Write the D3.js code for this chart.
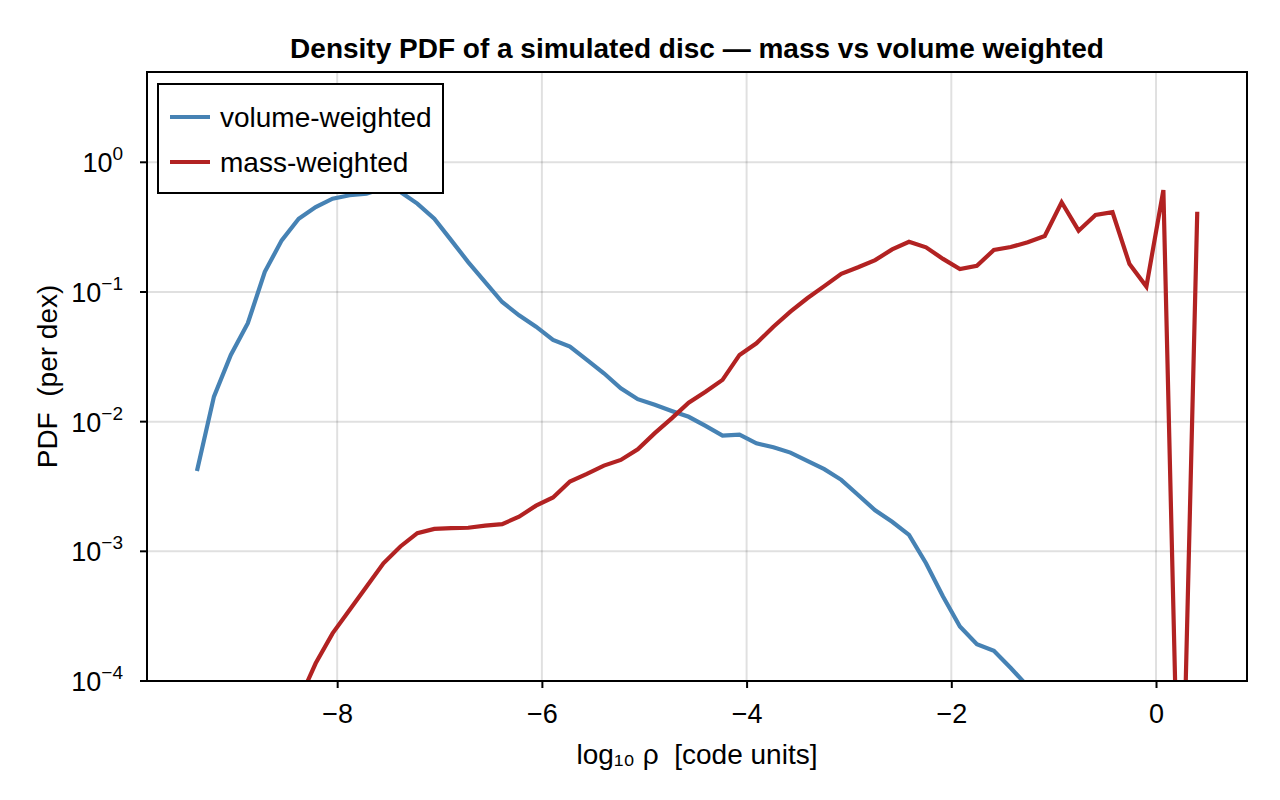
<!DOCTYPE html>
<html>
<head>
<meta charset="utf-8">
<script src="https://cdn.jsdelivr.net/npm/d3@7"></script>
<style>
  body { margin: 0; background: #fff; }
  svg text { font-family: "Liberation Sans", Arial, Helvetica, sans-serif; fill: #000; }
  .title { font-weight: bold; font-size: 28px; }
  .tick-label { font-size: 27px; }
  .axis-title { font-size: 28px; white-space: pre; }
  .legend-label { font-size: 28px; }
  .grid line { stroke: rgba(0,0,0,0.12); stroke-width: 2; }
</style>
</head>
<body>
<svg id="chart"></svg>
<script>
// log10 density bin centres
const logRho = [
  -9.370, -9.204, -9.039, -8.873, -8.707, -8.542, -8.376, -8.210, -8.045, -7.879,
  -7.714, -7.548, -7.382, -7.217, -7.051, -6.885, -6.720, -6.554, -6.388, -6.223,
  -6.057, -5.891, -5.726, -5.560, -5.394, -5.229, -5.063, -4.897, -4.732, -4.566,
  -4.401, -4.235, -4.069, -3.904, -3.738, -3.572, -3.407, -3.241, -3.075, -2.910,
  -2.744, -2.578, -2.413, -2.247, -2.081, -1.916, -1.750, -1.584, -1.419, -1.253,
  -1.087, -0.922, -0.756, -0.591, -0.425, -0.259, -0.094, 0.072, 0.238, 0.403
];

// volume-weighted PDF (null = empty bin)
const volumePdf = [
  0.00417, 0.0156, 0.0327, 0.0574, 0.143, 0.250, 0.367, 0.452, 0.524, 0.557,
  0.573, 0.63, 0.59, 0.480, 0.367, 0.250, 0.170, 0.119, 0.0837, 0.0661,
  0.054, 0.0427, 0.0379, 0.0299, 0.0236, 0.0181, 0.0149, 0.0135, 0.0121, 0.0109,
  0.00927, 0.0078, 0.00794, 0.00681, 0.00635, 0.00577, 0.00498, 0.00430, 0.00356, 0.00272,
  0.00207, 0.00169, 0.00134, 0.000809, 0.000448, 0.000263, 0.000192, 0.000171, 0.000126, 0.000091,
  null, null, null, null, null, null, null, null, null, null
];

// mass-weighted PDF
const massPdf = [
  null, null, null, null, null, null, 0.00007, 0.000137, 0.000233, 0.000353,
  0.000534, 0.000809, 0.00109, 0.00138, 0.00149, 0.00151, 0.00152, 0.00158, 0.00162, 0.00185,
  0.00225, 0.00260, 0.00345, 0.00395, 0.00458, 0.00507, 0.00613, 0.00815, 0.0106, 0.0140,
  0.0170, 0.0210, 0.0327, 0.0402, 0.0540, 0.0705, 0.0894, 0.111, 0.138, 0.155,
  0.176, 0.213, 0.244, 0.221, 0.180, 0.150, 0.159, 0.211, 0.222, 0.242,
  0.270, 0.492, 0.297, 0.392, 0.412, 0.164, 0.110, 0.611, 0.000002, 0.416
];

const seriesNames = ['volume-weighted', 'mass-weighted'];
const seriesColors = ['#4682b4', '#b22222'];
const xTicks = [-8, -6, -4, -2, 0];
const yTickExps = [-4, -3, -2, -1, 0];

class DensityPdf {
  constructor(_config) {
    this.config = {
      parentElement: _config.parentElement,
      containerWidth: _config.containerWidth || 1280,
      containerHeight: _config.containerHeight || 800,
      margin: _config.margin || {top: 72, right: 33, bottom: 119, left: 147},
      lineWidth: 4.2
    };
    this.initVis();
  }

  initVis() {
    let vis = this;
    const m = vis.config.margin;
    vis.width = vis.config.containerWidth - m.left - m.right;
    vis.height = vis.config.containerHeight - m.top - m.bottom;

    vis.xScale = d3.scaleLinear().domain([-9.858, 0.889]).range([0, vis.width]);
    vis.yScale = d3.scaleLog().domain([1e-4, 4.97]).range([vis.height, 0]);

    vis.svg = d3.select(vis.config.parentElement)
      .attr('width', vis.config.containerWidth)
      .attr('height', vis.config.containerHeight);

    vis.chart = vis.svg.append('g')
      .attr('transform', `translate(${m.left},${m.top})`);

    vis.svg.append('defs').append('clipPath').attr('id', 'plot-clip')
      .append('rect').attr('width', vis.width).attr('height', vis.height);

    // grid
    vis.chart.append('g').attr('class', 'grid')
      .selectAll('line.gx').data(xTicks).join('line')
      .attr('x1', d => vis.xScale(d)).attr('x2', d => vis.xScale(d))
      .attr('y1', 0).attr('y2', vis.height);
    vis.chart.append('g').attr('class', 'grid')
      .selectAll('line.gy').data(yTickExps).join('line')
      .attr('y1', d => vis.yScale(Math.pow(10, d))).attr('y2', d => vis.yScale(Math.pow(10, d)))
      .attr('x1', 0).attr('x2', vis.width);
  }

  renderVis() {
    let vis = this;
    const rows = logRho.map((x, i) => ({x: x, v: volumePdf[i], m: massPdf[i]}));

    const plot = vis.chart.append('g').attr('clip-path', 'url(#plot-clip)');
    const keys = ['v', 'm'];
    keys.forEach((k, i) => {
      const line = d3.line()
        .defined(d => d[k] !== null)
        .x(d => vis.xScale(d.x))
        .y(d => vis.yScale(d[k]));
      plot.append('path')
        .datum(rows)
        .attr('fill', 'none')
        .attr('stroke', seriesColors[i])
        .attr('stroke-width', vis.config.lineWidth)
        .attr('d', line);
    });

    // axes
    const xAxis = d3.axisBottom(vis.xScale).tickValues(xTicks).tickSize(7).tickPadding(9)
      .tickFormat(d3.format('d'));
    vis.chart.append('g')
      .attr('transform', `translate(0,${vis.height})`)
      .call(xAxis)
      .call(g => g.select('.domain').remove())
      .call(g => g.selectAll('line').attr('stroke', '#000').attr('stroke-width', 2))
      .call(g => g.selectAll('text').attr('class', 'tick-label').attr('font-size', null)
        .attr('font-family', null).attr('dy', '0.95em'));

    const yTickG = vis.chart.append('g');
    yTickG.selectAll('line').data(yTickExps).join('line')
      .attr('x1', -7).attr('x2', 0)
      .attr('y1', d => vis.yScale(Math.pow(10, d))).attr('y2', d => vis.yScale(Math.pow(10, d)))
      .attr('stroke', '#000').attr('stroke-width', 2);
    const yLabels = yTickG.selectAll('text').data(yTickExps).join('text')
      .attr('class', 'tick-label')
      .attr('text-anchor', 'end')
      .attr('x', -24)
      .attr('y', d => vis.yScale(Math.pow(10, d)) + 10);
    yLabels.append('tspan').text('10');
    yLabels.append('tspan')
      .attr('dy', -12)
      .attr('font-size', 19)
      .text(d => d === 0 ? '0' : '\u2212' + Math.abs(d));

    // frame
    vis.chart.append('rect')
      .attr('width', vis.width).attr('height', vis.height)
      .attr('fill', 'none').attr('stroke', '#000').attr('stroke-width', 2);

    // titles
    vis.svg.append('text').attr('class', 'title')
      .attr('x', vis.config.margin.left + vis.width / 2).attr('y', 58)
      .attr('text-anchor', 'middle')
      .text('Density PDF of a simulated disc \u2014 mass vs volume weighted');

    vis.svg.append('text').attr('class', 'axis-title')
      .attr('x', vis.config.margin.left + vis.width / 2).attr('y', 764)
      .attr('text-anchor', 'middle')
      .text('log\u2081\u2080 \u03c1  [code units]');

    vis.svg.append('text').attr('class', 'axis-title')
      .attr('transform', `translate(57,${vis.config.margin.top + vis.height / 2}) rotate(-90)`)
      .attr('text-anchor', 'middle')
      .text('PDF  (per dex)');

    // legend
    const legend = vis.chart.append('g').attr('transform', 'translate(11,12)');
    legend.append('rect')
      .attr('width', 285).attr('height', 109)
      .attr('fill', '#fff').attr('stroke', '#000').attr('stroke-width', 2);
    seriesNames.forEach((name, i) => {
      const yy = 33 + i * 45;
      legend.append('line')
        .attr('x1', 12).attr('x2', 52).attr('y1', yy).attr('y2', yy)
        .attr('stroke', seriesColors[i]).attr('stroke-width', vis.config.lineWidth);
      legend.append('text').attr('class', 'legend-label')
        .attr('x', 62).attr('y', yy + 10)
        .text(name);
    });
  }
}

const chart = new DensityPdf({parentElement: '#chart'});
chart.renderVis();
</script>
</body>
</html>
